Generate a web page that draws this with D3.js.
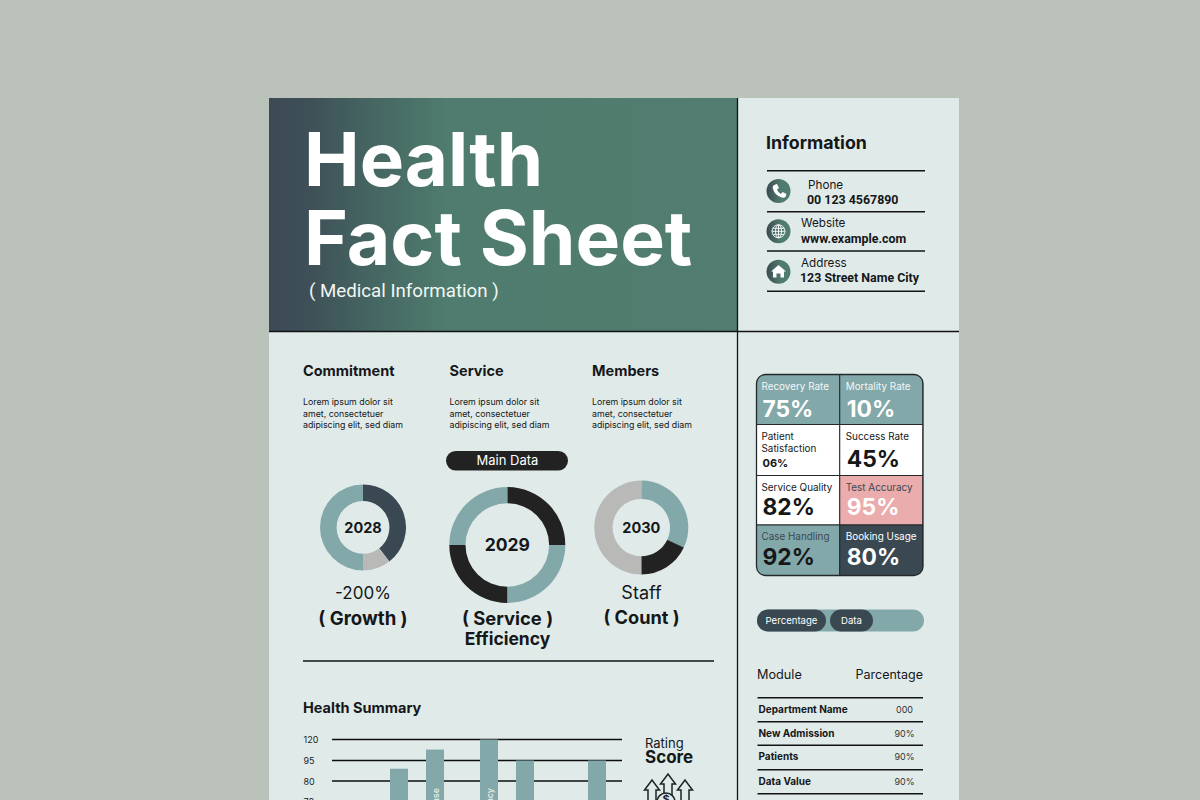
<!DOCTYPE html>
<html>
<head>
<meta charset="utf-8">
<script src="https://cdn.jsdelivr.net/npm/d3@7"></script>
<style>
  html, body { margin: 0; padding: 0; background: #bac2ba; }
  svg { display: block; }
  text { font-family: Inter, Roboto, "Liberation Sans", sans-serif; fill: #151719; }
</style>
</head>
<body>
<div id="chart"></div>
<script>
const width = 1200;
const height = 800;

const dark = "#3a4852";
const teal = "#83a8aa";
const grey = "#b9b9b7";
const black = "#222222";
const pink = "#eaacac";
const paper = "#e0ebe9";

// three columns under the header
const columnTitles = ["Commitment", "Service", "Members"];
const columnBody = ["Lorem ipsum dolor sit", "amet, consectetuer", "adipiscing elit, sed diam"];

// donuts
const donutYears = ["2028", "2029", "2030"];
const donut2028 = [39.5, 10.5, 50];
const donut2029 = [25, 25, 25, 25];
const donut2030 = [32, 18, 50];

// info block
const infoLabels = ["Phone", "Website", "Address"];
const infoValues = ["00 123 4567890", "www.example.com", "123 Street Name City"];

// stat tiles
const statLabels = ["Recovery Rate", "Mortality Rate", "Patient", "Success Rate", "Service Quality", "Test Accuracy", "Case Handling", "Booking Usage"];
const statValues = ["75%", "10%", "06%", "45%", "82%", "95%", "92%", "80%"];

// module table
const moduleNames = ["Department Name", "New Admission", "Patients", "Data Value"];
const moduleValues = ["000", "90%", "90%", "90%"];

// bar chart, cut by the bottom of the picture
const barTicks = [120, 95, 80, 70];
const barSlots = [3, 5, 8, 10, 14];
const barValues = [89, 108, 120, 95, 95];
const barNames = ["", "Increase", "Efficiency", "", ""];

const svg = d3.select("#chart").append("svg")
  .attr("width", width)
  .attr("height", height);

const defs = svg.append("defs");

const headGrad = defs.append("linearGradient").attr("id", "headGrad");
headGrad.append("stop").attr("offset", "0%").attr("stop-color", "#3c4a54");
headGrad.append("stop").attr("offset", "8%").attr("stop-color", "#3e4f57");
headGrad.append("stop").attr("offset", "20%").attr("stop-color", "#446360");
headGrad.append("stop").attr("offset", "38%").attr("stop-color", "#4f7c6e");
headGrad.append("stop").attr("offset", "100%").attr("stop-color", "#527d70");

const iconGrad = defs.append("linearGradient").attr("id", "iconGrad");
iconGrad.append("stop").attr("offset", "0%").attr("stop-color", "#3c4a54");
iconGrad.append("stop").attr("offset", "60%").attr("stop-color", "#4f7c6e");

function label(parent, x, y, str, size, weight, color, anchor) {
  return parent.append("text")
    .attr("x", x)
    .attr("y", y)
    .attr("font-size", size)
    .attr("font-weight", weight || 400)
    .attr("text-anchor", anchor || "start")
    .style("fill", color || "#151719")
    .text(str);
}

function rule(x1, x2, y1, y2, w, color) {
  svg.append("line")
    .attr("x1", x1).attr("x2", x2).attr("y1", y1).attr("y2", y2)
    .attr("stroke", color || "#111315")
    .attr("stroke-width", w || 1.3);
}

// sheet + header
svg.append("rect").attr("x", 269).attr("y", 98).attr("width", 690).attr("height", 702).attr("fill", paper);
svg.append("rect").attr("x", 269).attr("y", 98).attr("width", 468).attr("height", 233).attr("fill", "url(#headGrad)");
rule(269, 959, 331.5, 331.5, 1.3);
rule(737.5, 737.5, 98, 800, 1.3);

label(svg, 304, 186, "Health", 74.5, 700, "#fff");
label(svg, 304, 265, "Fact Sheet", 75, 700, "#fff");
label(svg, 309, 297, "( Medical Information )", 18.7, 400, "#f2f6f4").style("font-family", "Roboto");

// info block
label(svg, 766, 149, "Information", 17.8, 700);
const infoRows = [170.7, 211.7, 251, 291.3];
infoRows.forEach(y => rule(767, 925, y, y, 1.5));
const infoLabelX = [808, 801, 801];
const infoValueX = [807, 801, 800];
const infoLabelY = [188.5, 227, 267];
const infoValueY = [203.5, 242.5, 282];
const iconY = [191, 231.3, 271.7];
infoLabels.forEach((d, i) => {
  svg.append("circle").attr("cx", 778.5).attr("cy", iconY[i]).attr("r", 12).attr("fill", "url(#iconGrad)");
  label(svg, infoLabelX[i], infoLabelY[i], d, 11.7);
  label(svg, infoValueX[i], infoValueY[i], infoValues[i], 12.4, 700).style("font-family", "Roboto");
});
// phone, globe and house glyphs
svg.append("path")
  .attr("d", "M774 185 l3 -1 l2 4 l-2 1.5 q1 3 4 4.5 l1.5 -2 l4 2 l-1 3 q-1 1 -3 .8 q-8 -2 -9.8 -9.8 q-.2 -2 1.3 -3z")
  .attr("fill", "#fff");
const globe = svg.append("g").attr("fill", "none").attr("stroke", "#fff").attr("stroke-width", 0.9);
globe.append("circle").attr("cx", 778.5).attr("cy", 231.3).attr("r", 6.5);
globe.append("ellipse").attr("cx", 778.5).attr("cy", 231.3).attr("rx", 3).attr("ry", 6.5);
globe.append("path").attr("d", "M772 231.3h13M773 228.3h11M773 234.3h11M778.5 224.8v13");
svg.append("path")
  .attr("d", "M778.5 265 l7.5 6.5 h-2 v6 h-3.5 v-4 h-4 v4 h-3.5 v-6 h-2z")
  .attr("fill", "#fff");

// three text columns
const columnX = [303, 449.5, 592];
columnTitles.forEach((d, i) => {
  label(svg, columnX[i], 376, d, 14.5, 700);
  columnBody.forEach((line, j) => label(svg, columnX[i], 405 + j * 11.5, line, 8.8));
});

// main data pill
svg.append("rect").attr("x", 446).attr("y", 451).attr("width", 122).attr("height", 19.5).attr("rx", 9.7).attr("fill", black);
label(svg, 507.5, 465, "Main Data", 13, 400, "#fff", "middle");

// donuts
const pie = d3.pie().sort(null).value(d => d);
function donut(values, colors, cx, cy, inner, outer, year, size) {
  const arc = d3.arc().innerRadius(inner).outerRadius(outer);
  const g = svg.append("g").attr("transform", `translate(${cx},${cy})`);
  g.selectAll("path").data(pie(values)).join("path")
    .attr("d", arc)
    .attr("fill", (d, i) => colors[i]);
  label(g, 0, size * 0.36, year, size, 700, "#151719", "middle");
}
donut(donut2028, [dark, grey, teal], 363, 527.4, 26.4, 43, donutYears[0], 14.5);
donut(donut2029, [black, teal, black, teal], 507.3, 545, 41.8, 58, donutYears[1], 17.5);
donut(donut2030, [teal, black, grey], 641.3, 527.6, 28.7, 47, donutYears[2], 14.5);

label(svg, 363, 599, "-200%", 17, 400, "#151719", "middle");
label(svg, 363, 625, "( Growth )", 18.6, 700, "#151719", "middle");
label(svg, 507.5, 625, "( Service )", 18.4, 700, "#151719", "middle");
label(svg, 507.5, 645, "Efficiency", 17.5, 700, "#151719", "middle");
label(svg, 641.5, 599, "Staff", 18, 400, "#151719", "middle");
label(svg, 641.5, 624, "( Count )", 18.2, 700, "#151719", "middle");
rule(303, 714, 661, 661, 1.3);

// stat tiles
const tileX = d3.scaleBand().domain([0, 1]).range([756.5, 923]);
const tileEdges = [374.5, 424.5, 475.5, 525, 575.5];
const tileValueBase = [417.3, 466.7, 515.2, 565];
const tileFill = [teal, teal, "#fff", "#fff", "#fff", pink, teal, dark];
const tileLabelColor = ["#f3f7f6", "#f3f7f6", "#151719", "#151719", "#151719", dark, dark, "#fff"];
const tileValueColor = ["#fff", "#fff", "#151719", "#151719", "#151719", "#fff", "#151719", "#fff"];
defs.append("clipPath").attr("id", "tileClip").append("rect")
  .attr("x", 756.5).attr("y", 374.5).attr("width", 166.5).attr("height", 201).attr("rx", 9);
const tiles = svg.append("g").attr("clip-path", "url(#tileClip)");
statLabels.forEach((d, i) => {
  const col = i % 2;
  const row = Math.floor(i / 2);
  tiles.append("rect")
    .attr("x", tileX(col))
    .attr("y", tileEdges[row])
    .attr("width", tileX.bandwidth())
    .attr("height", tileEdges[row + 1] - tileEdges[row])
    .attr("fill", tileFill[i])
    .attr("stroke", "#23282b")
    .attr("stroke-width", 1);
  const x = tileX(col) + (col ? 6 : 5);
  label(svg, x, tileEdges[row] + 15, d, 9.9, 400, tileLabelColor[i]);
  if (i === 2) {
    label(svg, x, tileEdges[row] + 27.7, "Satisfaction", 9.9, 400, tileLabelColor[i]);
    label(svg, x + 1, tileValueBase[row], statValues[i], 11, 700, tileValueColor[i]);
  } else {
    label(svg, x + 1, tileValueBase[row], statValues[i], 22.8, 700, tileValueColor[i]);
  }
});
svg.append("rect").attr("x", 756.5).attr("y", 374.5).attr("width", 166.5).attr("height", 201).attr("rx", 9)
  .attr("fill", "none").attr("stroke", "#23282b").attr("stroke-width", 1.3);

// percentage / data toggle
svg.append("rect").attr("x", 757).attr("y", 609.5).attr("width", 167).attr("height", 22).attr("rx", 11).attr("fill", teal);
svg.append("rect").attr("x", 757).attr("y", 609.5).attr("width", 69).attr("height", 22).attr("rx", 11).attr("fill", dark);
svg.append("rect").attr("x", 830).attr("y", 609.5).attr("width", 43).attr("height", 22).attr("rx", 11).attr("fill", dark);
label(svg, 791.5, 624, "Percentage", 9.6, 400, "#fff", "middle");
label(svg, 851.5, 624, "Data", 9.6, 400, "#fff", "middle");

// module table
label(svg, 757, 679, "Module", 12.7);
label(svg, 923, 679, "Parcentage", 12.5, 400, "#151719", "end");
const moduleRows = [697.7, 721.7, 745.3, 769.7, 793.7];
moduleRows.forEach(y => rule(757.5, 923, y, y, 1.4));
moduleNames.forEach((d, i) => {
  label(svg, 758.5, moduleRows[i] + 15, d, 10, 700);
  label(svg, 904.5, moduleRows[i] + 15, moduleValues[i], 9, 400, "#333", "middle");
});

// health summary bars
label(svg, 303, 713, "Health Summary", 14.5, 700);
const x = d3.scaleBand().domain(d3.range(16)).range([336, 624]);
const y = d3.scaleLinear().domain([120, 95, 80, 70]).range([739.5, 760.5, 781, 801]);

barTicks.forEach(t => {
  rule(332, 622, y(t), y(t), 1.5, "#0c0d0e");
  label(svg, 303.5, y(t) + 3.5, t, 9, 400, "#222");
});
svg.append("g").selectAll("rect")
  .data(barValues)
  .join("rect")
  .attr("x", (d, i) => x(barSlots[i]))
  .attr("y", d => y(d))
  .attr("width", x.bandwidth())
  .attr("height", d => 801 - y(d))
  .attr("fill", teal);
barNames.forEach((d, i) => {
  if (!d) return;
  svg.append("text")
    .attr("transform", `translate(${x(barSlots[i]) + 12.5},788) rotate(-90)`)
    .attr("text-anchor", "end")
    .attr("font-size", 9)
    .attr("font-weight", 500)
    .style("fill", "#e9f0ef")
    .text(d);
});

// rating score
label(svg, 645, 748, "Rating", 13);
label(svg, 645, 763, "Score", 17, 700);
const arrows = svg.append("g").attr("fill", "none").attr("stroke", "#1d2226").attr("stroke-width", 1.5);
arrows.append("path").attr("d", "M644.5 790 l7.5 -10 l7.5 10 h-3.5 v13 h-8 v-13z");
arrows.append("path").attr("d", "M660.5 784 l7.5 -10 l7.5 10 h-3.5 v12 h-8 v-12z");
arrows.append("path").attr("d", "M677.5 790 l7.5 -10 l7.5 10 h-3.5 v13 h-8 v-13z");
svg.append("circle").attr("cx", 666).attr("cy", 802).attr("r", 9).attr("fill", paper).attr("stroke", "#1d2226").attr("stroke-width", 1.5);
label(svg, 666, 803, "$", 11, 700, "#1d2226", "middle");
</script>
</body>
</html>
